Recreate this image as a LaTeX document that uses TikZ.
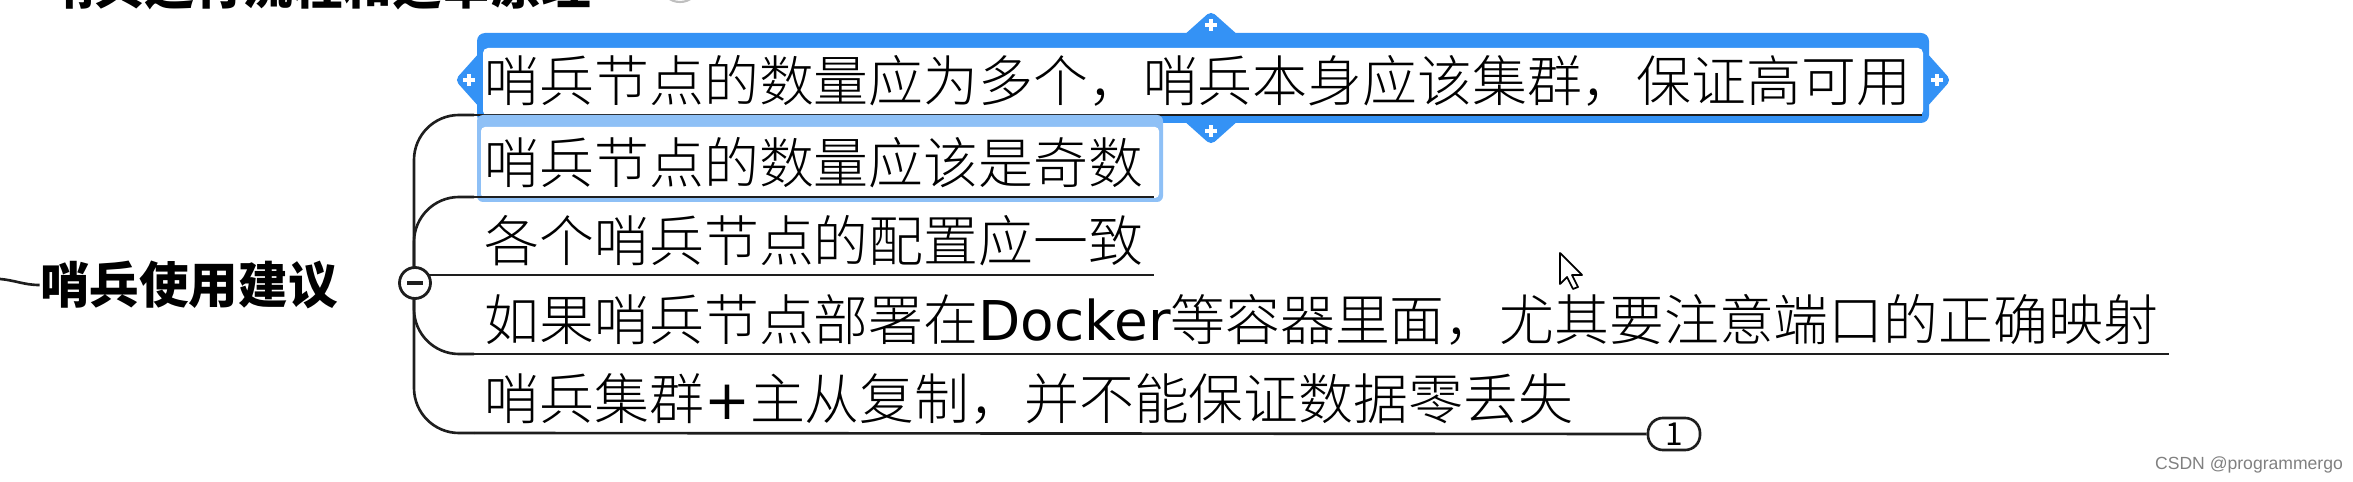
\documentclass[tikz,border=0pt]{standalone}
\usepackage{fontspec}
\setmainfont{Noto Sans CJK SC}
\newfontfamily\thincjk{Noto Sans CJK SC Light}
\newfontfamily\latinpart{DejaVu Sans}
\newfontfamily\wmfont{Liberation Sans}
\usetikzlibrary{positioning}
\definecolor{selblue}{RGB}{52,146,245}
\definecolor{hovblue}{RGB}{142,192,246}
\definecolor{inkgray}{RGB}{30,30,30}

\begin{document}
\begin{tikzpicture}[x=0.01cm, y=-0.01cm,
    topic/.style = {inner sep=0pt, font=\fontsize{14.1pt}{17pt}\selectfont\bfseries},
    item/.style = {anchor=south west, inner xsep=0.1cm, inner ysep=0pt, text depth=0.13cm, font=\thincjk\fontsize{15.6pt}{18pt}\selectfont},
    uline/.style = {draw=inkgray, line width=0.75pt},
    branch/.style = {draw=inkgray, line width=0.75pt, rounded corners=0.45cm}]
    \clip (0,0) rectangle (2353,482);

    % selected topic frame with its four handles
    \fill[selblue, rounded corners=0.08cm] (477,33) rectangle (1929,123);
    \fill[white, rounded corners=0.05cm] (483,48) rectangle (1923,116);
    \foreach \x/\y/\r in {477/80/90, 1211/33/0, 1211/123/180, 1929/80/-90} {
        \begin{scope}[shift={(\x,\y)}, rotate=\r]
            \fill[selblue, rounded corners=0.05cm] (-28,3) -- (0,-22) -- (28,3) -- cycle;
            \draw[white, line width=1.1pt] (-6,-8) -- (6,-8) (0,-14) -- (0,-2);
        \end{scope}
    }

    \node[topic] (title) at (318,-14) {哨兵运行流程和选举原理};
    \draw[gray!50, line width=0.6pt] (680,-14) circle[x radius=0.18cm, y radius=0.16cm];

    \node[item] (c1) at (474,115) {哨兵节点的数量应为多个，哨兵本身应该集群，保证高可用};
    \draw[uline] (c1.south west) -- (c1.south east);

    % hover frame
    \fill[hovblue, rounded corners=0.06cm] (477,115) rectangle (1163,202);
    \fill[white, rounded corners=0.04cm] (481,127) rectangle (1159,198);

    \node[item] (c2) at (474,197) {哨兵节点的数量应该是奇数};
    \node[item] (c3) at (474,275) {各个哨兵节点的配置应一致};
    \node[item] (c4) at (474,354) {如果哨兵节点部署在{\latinpart Docker}等容器里面，尤其要注意端口的正确映射};
    \node[item] (c5) at (474,433) {哨兵集群{\latinpart +}主从复制，并不能保证数据零丢失};
    \node[draw=inkgray, fill=white, line width=0.75pt, rounded corners=0.15cm, minimum width=0.52cm, minimum height=0.32cm, inner sep=0pt, font=\fontsize{9pt}{9pt}\selectfont] (cnt) at (1674,434) {1};

    \draw[uline] (c2.south west) -- (c2.south east);
    \draw[uline] (c3.south west) -- (c3.south east);
    \draw[uline] (c4.south west) -- (c4.south east);
    \draw[uline] (c5.south west) -- (cnt.west);

    \node[topic] (root) at (189,285) {哨兵使用建议};
    \coordinate (lin) at (0,279);
    \draw[uline] (lin) to[out=-5,in=180] (root.west);

    % branches
    \draw[branch] (414,283) |- (c1.south west);
    \draw[branch] (414,283) |- (c2.south west);
    \draw[branch] (414,283) |- (c4.south west);
    \draw[branch] (414,283) |- (c5.south west);
    \draw[uline] (c3.south west) -- (c3.south west -| 414,283);
    \node[circle, draw=inkgray, fill=white, line width=0.8pt, minimum size=0.31cm, inner sep=0pt] (tog) at (415,283) {};
    \draw[uline, line width=0.9pt] ([xshift=-0.075cm]tog.center) -- ([xshift=0.075cm]tog.center);

    % mouse pointer
    \draw[black, fill=white, line width=0.5pt, line join=round] (1560,253) -- ++(0,31) -- ++(7,-7) -- ++(6,12) -- ++(5,-2) -- ++(-6,-12) -- ++(10,0) -- cycle;

    \node[font=\wmfont\fontsize{5pt}{6pt}\selectfont, text=gray, inner sep=0pt] (wm) at (2249,465) {CSDN @programmergo};
\end{tikzpicture}
\end{document}
